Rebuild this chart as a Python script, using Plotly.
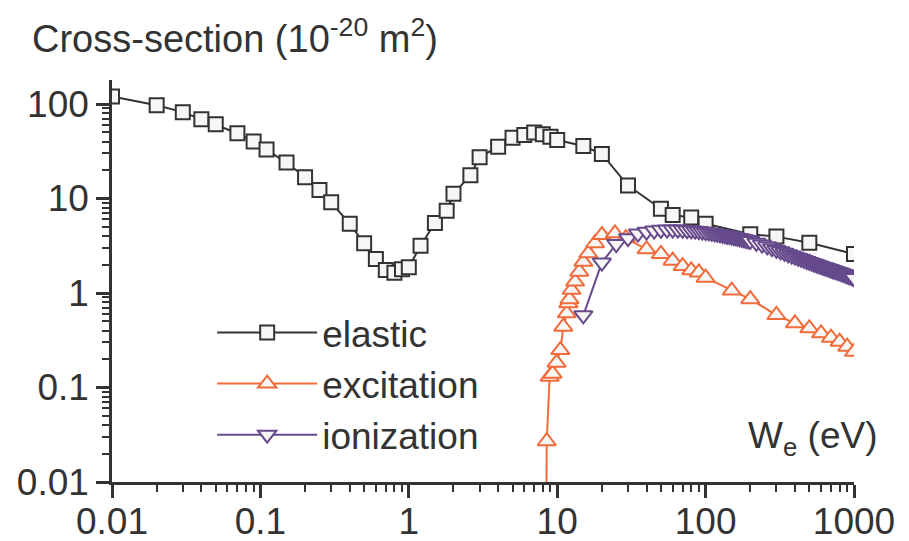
import plotly.graph_objects as go

# ---- data ----
elastic_x = [0.01, 0.02, 0.03, 0.04, 0.05, 0.07, 0.09, 0.11, 0.15, 0.2, 0.25, 0.3, 0.4, 0.5,
             0.6, 0.7, 0.8, 0.9, 1.0, 1.2, 1.5, 1.8, 2.0, 2.6, 3.0, 4, 5, 6, 7, 8, 9, 10,
             15, 20, 30, 50, 60, 80, 100, 200, 300, 500, 1000]
elastic_y = [120, 97, 82, 69, 61, 49, 40, 33, 24, 16.8, 12.3, 9.1, 5.4, 3.36,
             2.29, 1.75, 1.64, 1.78, 1.87, 3.17, 5.5, 7.4, 11.2, 17.6, 27.3, 35.3, 44, 47, 50, 47.8, 45, 41.6,
             36, 29.6, 13.7, 7.8, 6.7, 6.3, 5.4, 4.18, 3.95, 3.4, 2.59]

excitation_x = [8.4, 8.5, 8.9, 9.3, 9.9, 10.5, 11, 11.6, 11.9, 12.1, 12.5, 13.2, 14.1, 15, 16.2, 18,
                20, 24.5, 29, 40, 50, 60, 70, 80, 90, 100, 150, 200, 300, 400, 500, 600, 700,
                800, 900, 1000]
excitation_y = [0.001, 0.027, 0.13, 0.14, 0.183, 0.249, 0.44, 0.61, 0.78, 0.86, 1.08, 1.32, 1.68, 2.14,
                2.63, 3.36, 4.1, 4.28, 3.8, 2.9, 2.59, 2.2, 1.93, 1.74, 1.65, 1.45, 1.06, 0.86, 0.585,
                0.478, 0.423, 0.374, 0.336, 0.305, 0.27, 0.239]

ionization_x = [15, 20, 25, 30, 35, 40, 45, 50, 55, 60, 65, 70, 75, 80, 85, 90, 95, 100,
                105, 110, 115, 120, 125, 130, 135, 140, 145, 150, 155, 160, 165, 170, 175, 180,
                185, 190, 195, 200,
                220, 240, 260, 280, 300, 320, 340, 360, 380, 400, 420, 440, 460, 480, 500,
                520, 540, 560, 580, 600, 620, 640, 660, 680, 700, 720, 740, 760, 780, 800,
                820, 840, 860, 880, 900, 920, 940, 960, 980, 1000]
ionization_y = [0.58, 2.1, 3.3, 3.8, 4.25, 4.45, 4.58, 4.66, 4.7, 4.7, 4.69, 4.67, 4.64, 4.6, 4.56,
                4.52, 4.47, 4.42, 4.37, 4.32, 4.27, 4.22, 4.17, 4.12, 4.07, 4.03, 3.99, 3.95, 3.91,
                3.87, 3.83, 3.79, 3.75, 3.71, 3.67, 3.63, 3.6, 3.56,
                3.4, 3.26, 3.12, 2.98, 2.86, 2.76, 2.66, 2.57, 2.49, 2.42, 2.36, 2.3, 2.24, 2.18,
                2.13, 2.08, 2.04, 2.0, 1.96, 1.92, 1.89, 1.86, 1.83, 1.8, 1.77, 1.74, 1.72, 1.69,
                1.67, 1.65, 1.62, 1.6, 1.58, 1.56, 1.54, 1.52, 1.5, 1.48, 1.46, 1.44]

x_tickvals = [0.01, 0.1, 1, 10, 100, 1000]
x_ticktext = ["0.01", "0.1", "1", "10", "100", "1000"]
y_tickvals = [0.01, 0.1, 1, 10, 100]
y_ticktext = ["0.01", "0.1", "1", "10", "100"]

FONT = "Liberation Sans, Arial, sans-serif"
TXT = "#333333"
FILL = "#f7f6f4"
C_EL = "#333333"
C_EX = "#f26b3a"
C_IO = "#664a8c"

fig = go.Figure()
fig.add_trace(go.Scatter(
    x=elastic_x, y=elastic_y, name="elastic", mode="lines+markers",
    line=dict(color=C_EL, width=2),
    marker=dict(symbol="square", size=14, color=FILL, line=dict(color=C_EL, width=2)),
))
fig.add_trace(go.Scatter(
    x=excitation_x, y=excitation_y, name="excitation", mode="lines+markers",
    line=dict(color=C_EX, width=2),
    marker=dict(symbol="triangle-up", size=16, color=FILL, line=dict(color=C_EX, width=2)),
))
fig.add_trace(go.Scatter(
    x=ionization_x, y=ionization_y, name="ionization", mode="lines+markers",
    line=dict(color=C_IO, width=2),
    marker=dict(symbol="triangle-down", size=16, color=FILL, line=dict(color=C_IO, width=2)),
))

axis_common = dict(
    type="log", showgrid=False, zeroline=False, showline=True, linecolor=TXT, linewidth=2.5,
    ticks="outside", ticklen=13, tickwidth=2.5, tickcolor=TXT, automargin=False,
    tickfont=dict(family=FONT, size=37, color=TXT),
    minor=dict(ticks="outside", ticklen=7, tickwidth=2, tickcolor=TXT, dtick="D1", showgrid=False),
)
fig.update_xaxes(range=[-2, 3], tickvals=x_tickvals, ticktext=x_ticktext,
                 ticklabelstandoff=-8, **axis_common)
fig.update_yaxes(range=[-2, 2.254], tickvals=y_tickvals, ticktext=y_ticktext, **axis_common)

fig.add_annotation(xref="paper", yref="paper", x=-0.111, y=1.11, xanchor="left", yanchor="middle",
                   text="Cross-section (10<sup>-20</sup> m<sup>2</sup>)", showarrow=False,
                   font=dict(family=FONT, size=38, color=TXT))
fig.add_annotation(xref="paper", yref="paper", x=1.035, y=0.11, xanchor="right", yanchor="middle",
                   text="W<sub>e</sub> (eV)", showarrow=False,
                   font=dict(family=FONT, size=37, color=TXT))

# the page places the plot 8px from its top-left corner, so size and margins allow for that
fig.update_layout(
    width=901, height=533,
    margin=dict(l=104, r=55, t=72, b=59),
    paper_bgcolor="white", plot_bgcolor="white",
    showlegend=True,
    legend=dict(x=0.135, y=0.448, xanchor="left", yanchor="top", bgcolor="rgba(0,0,0,0)",
                font=dict(family=FONT, size=37, color=TXT), itemwidth=100,
                traceorder="normal"),
)

fig.write_html("out.html")
